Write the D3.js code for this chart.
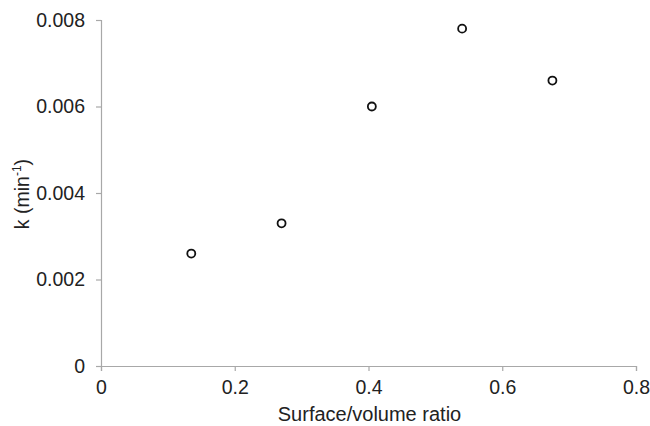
<!DOCTYPE html>
<html><head><meta charset="utf-8">
<script src="https://cdn.jsdelivr.net/npm/d3@7"></script>
<style>body{margin:0;background:#fff}svg{display:block}</style>
</head><body>
<script>
const xValues = [0.135, 0.27, 0.405, 0.54, 0.675];
const yValues = [0.0026, 0.0033, 0.0060, 0.0078, 0.0066];
const xTicks = [0, 0.2, 0.4, 0.6, 0.8];
const yTicks = [0, 0.002, 0.004, 0.006, 0.008];
const xTitle = "Surface/volume ratio";

const W = 650, H = 426;
const m = {left: 101, right: 14, top: 20, bottom: 60};
const svg = d3.select("body").append("svg").attr("width", W).attr("height", H);
const x = d3.scaleLinear().domain([0, 0.8]).range([m.left, W - m.right]);
const y = d3.scaleLinear().domain([0, 0.008]).range([H - m.bottom, m.top]);
const font = "'Liberation Sans', Arial, sans-serif";
const fs = "19.5px";

const gx = svg.append("g").attr("transform", `translate(0,${H - m.bottom})`)
  .call(d3.axisBottom(x).tickValues(xTicks).tickSize(5).tickPadding(9).tickFormat(d => d === 0 ? "0" : d3.format(".1f")(d)));
const gy = svg.append("g").attr("transform", `translate(${m.left},0)`)
  .call(d3.axisLeft(y).tickValues(yTicks).tickSize(5).tickPadding(11).tickFormat(d => d === 0 ? "0" : d3.format(".3f")(d)));
[gx, gy].forEach(g => {
  g.selectAll("path, line").attr("stroke", "#a8a8a8").attr("stroke-width", 1.2);
  g.selectAll("text").attr("fill", "#222").style("font-family", font).style("font-size", fs);
});

svg.append("text").attr("x", (x(0) + x(0.8)) / 2 + 1).attr("y", 421)
  .attr("text-anchor", "middle").attr("fill", "#222")
  .style("font-family", font).style("font-size", "20px").text(xTitle);

const yl = svg.append("text").attr("transform", `translate(29,${(y(0) + y(0.008)) / 2 + 1}) rotate(-90)`)
  .attr("text-anchor", "middle").attr("fill", "#222")
  .style("font-family", font).style("font-size", fs);
yl.append("tspan").text("k (min");
yl.append("tspan").attr("dy", -8).style("font-size", "12px").text("-1");
yl.append("tspan").attr("dy", 8).text(")");

svg.append("g").selectAll("circle").data(xValues.map((v, i) => [v, yValues[i]]))
  .join("circle").attr("cx", d => x(d[0])).attr("cy", d => y(d[1])).attr("r", 4)
  .attr("fill", "#fff").attr("stroke", "#111").attr("stroke-width", 1.8);
</script>
</body></html>
